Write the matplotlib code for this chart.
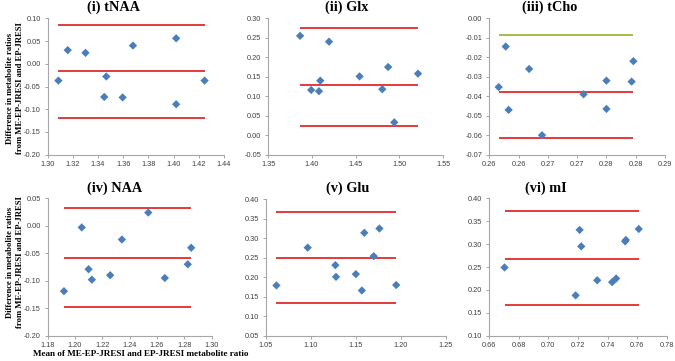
import numpy as np
import matplotlib
matplotlib.use("Agg")
import matplotlib.pyplot as plt

W, H = 675, 361

# ---- data ----
titles = ["(i) tNAA", "(ii) Glx", "(iii) tCho", "(iv) NAA", "(v) Glu", "(vi) mI"]

tnaa_x = [1.3085, 1.3159, 1.3300, 1.3449, 1.3465, 1.3595, 1.3677, 1.4020, 1.4020, 1.4246]
tnaa_y = [-0.037, 0.030, 0.024, -0.073, -0.028, -0.074, 0.040, 0.056, -0.089, -0.037]
tnaa_lim = [0.086, -0.016, -0.120]

glx_x = [1.3864, 1.3991, 1.4080, 1.4095, 1.4195, 1.4545, 1.4805, 1.4872, 1.4942, 1.5214]
glx_y = [0.255, 0.116, 0.113, 0.140, 0.240, 0.151, 0.118, 0.175, 0.033, 0.158]
glx_lim = [0.276, 0.128, 0.024]

tcho_x = [0.2566, 0.2578, 0.2583, 0.2618, 0.2640, 0.2711, 0.2750, 0.2750, 0.2793, 0.2796]
tcho_y = [-0.0353, -0.0145, -0.0470, -0.0260, -0.0600, -0.0390, -0.0320, -0.0465, -0.0325, -0.0220]
tcho_lim = [-0.0086, -0.0378, -0.0614]

naa_x = [1.1919, 1.2049, 1.2099, 1.2123, 1.2257, 1.2343, 1.2536, 1.2657, 1.2825, 1.2850]
naa_y = [-0.119, -0.003, -0.079, -0.098, -0.090, -0.025, 0.024, -0.095, -0.070, -0.040]
naa_lim = [0.033, -0.058, -0.148]

glu_x = [1.0616, 1.0964, 1.1272, 1.1279, 1.1500, 1.1567, 1.1594, 1.1699, 1.1762, 1.1949]
glu_y = [0.179, 0.276, 0.231, 0.201, 0.208, 0.166, 0.314, 0.254, 0.325, 0.180]
glu_lim = [0.367, 0.250, 0.135]

mi_x = [0.6703, 0.7184, 0.7211, 0.7222, 0.7330, 0.7431, 0.7458, 0.7519, 0.7524, 0.7611]
mi_y = [0.249, 0.188, 0.331, 0.295, 0.221, 0.217, 0.225, 0.306, 0.309, 0.333]
mi_lim = [0.373, 0.268, 0.166]

xlims = [(1.30, 1.44), (1.35, 1.55), (0.255, 0.285), (1.18, 1.30), (1.05, 1.25), (0.66, 0.78)]
xsteps = [0.02, 0.05, 0.005, 0.02, 0.05, 0.02]
ylims = [(-0.20, 0.10), (-0.05, 0.30), (-0.07, 0.00), (-0.20, 0.05), (0.05, 0.40), (0.10, 0.40)]
ysteps = [0.05, 0.05, 0.01, 0.05, 0.05, 0.05]
tcho_xticklabels = ["0.26", "0.26", "0.27", "0.27", "0.28", "0.28", "0.29"]

ylabel = "Difference in metabolite ratios\nfrom ME-EP-JRESI and EP-JRESI"
xlabel = "Mean of ME-EP-JRESI and EP-JRESI metabolite ratio"

# ---- layout (pixel boxes: left, top, right, bottom) ----
boxes = [(47.7, 18.3, 224, 154.7), (268.3, 18.3, 443, 154.7), (489.3, 18.3, 665, 154.7),
         (47.7, 198.3, 211.7, 335.7), (266, 199.3, 445.7, 335.7), (489.3, 198.3, 666.7, 335.7)]
title_pos = [(113, 7), (347, 7), (550, 7), (115, 188), (348, 188), (546, 188)]

serif = "Liberation Serif"
sans = "Liberation Sans"
red = "#e5393b"
green = "#a3bd4a"
blue = "#4a7ebb"
axcol = "#a6a6a6"

series = [(tnaa_x, tnaa_y, tnaa_lim), (glx_x, glx_y, glx_lim), (tcho_x, tcho_y, tcho_lim),
          (naa_x, naa_y, naa_lim), (glu_x, glu_y, glu_lim), (mi_x, mi_y, mi_lim)]

fig = plt.figure(figsize=(W / 100, H / 100), dpi=100)

for i, (x, y, lim) in enumerate(series):
    l, t, r, b = boxes[i]
    ax = fig.add_axes([l / W, 1 - b / H, (r - l) / W, (b - t) / H])
    x = np.asarray(x)
    y = np.asarray(y)
    x0, x1 = x.min(), x.max()
    for k, v in enumerate(lim):
        c = green if (i == 2 and k == 0) else red
        ax.plot([x0, x1], [v, v], color=c, lw=1.4, solid_capstyle="butt", zorder=2)
    ax.scatter(x, y, marker="D", s=18, color=blue, edgecolors="none", zorder=3)

    ax.set_xlim(*xlims[i])
    ax.set_ylim(*ylims[i])
    xt = np.arange(xlims[i][0], xlims[i][1] + xsteps[i] / 2, xsteps[i])
    yt = np.arange(ylims[i][0], ylims[i][1] + ysteps[i] / 2, ysteps[i])
    ax.set_xticks(xt)
    ax.set_yticks(yt)
    if i == 2:
        ax.set_xticklabels(tcho_xticklabels)
    else:
        ax.set_xticklabels([f"{v:.2f}" for v in xt])
    ax.set_yticklabels([f"{v:.2f}" if abs(v) > 1e-9 else "0.00" for v in yt])

    for s in ["top", "right"]:
        ax.spines[s].set_visible(False)
    for s in ["left", "bottom"]:
        ax.spines[s].set_color(axcol)
        ax.spines[s].set_linewidth(0.8)
    ax.tick_params(direction="out", length=2.5, width=0.7, color=axcol,
                   labelsize=5.3, labelcolor="#404040", pad=2.5)
    ax.tick_params(axis="x", pad=1.8)
    for lab in ax.get_xticklabels() + ax.get_yticklabels():
        lab.set_family(sans)
    ax.set_facecolor("none")

    tx, ty = title_pos[i]
    fig.text(tx / W, 1 - ty / H, titles[i], ha="center", va="center",
             family=serif, weight="bold", fontsize=10.3)

# shared y labels for each row
for cy in (88, 262):
    fig.text(15 / W, 1 - cy / H, ylabel, rotation=90, ha="center", va="center",
             family=serif, weight="bold", fontsize=6.2, linespacing=1.45)
fig.text(33 / W, 1 - 354 / H, xlabel, ha="left", va="center",
         family=serif, weight="bold", fontsize=6.6)

fig.savefig("out.png", dpi=100, facecolor="white")
